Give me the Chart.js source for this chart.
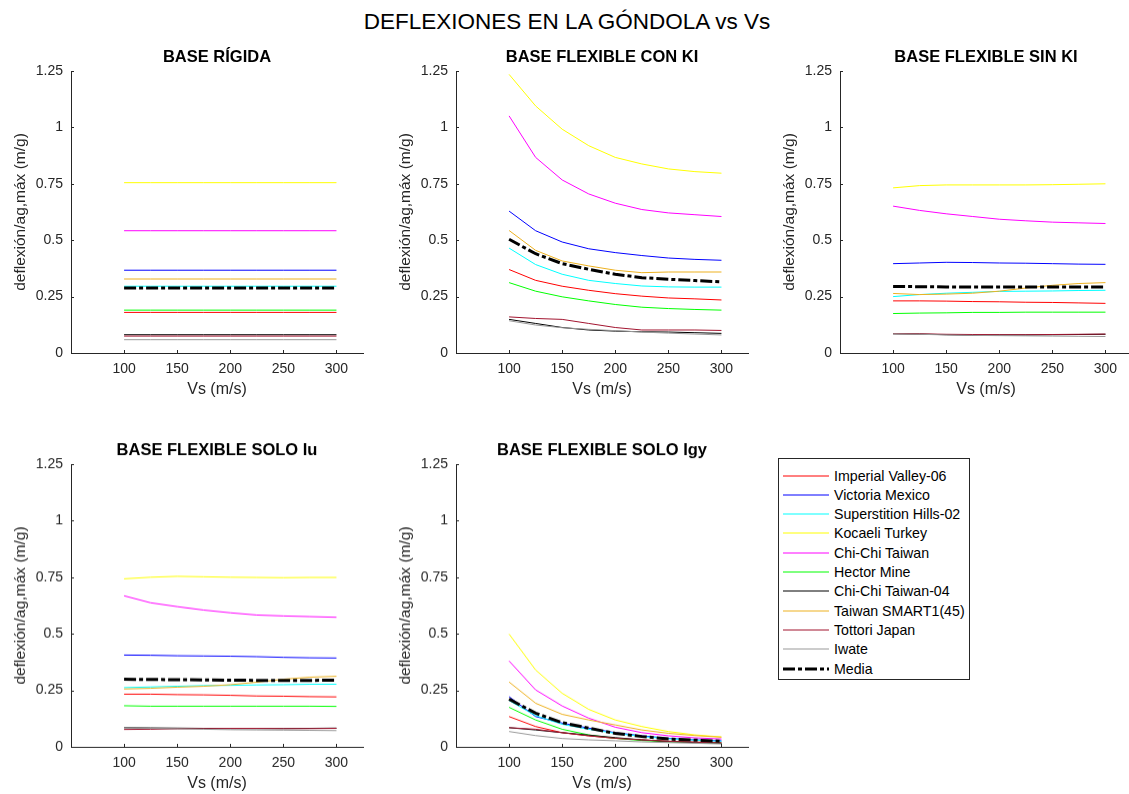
<!DOCTYPE html>
<html>
<head>
<meta charset="utf-8">
<script src="https://cdn.jsdelivr.net/npm/chart.js@4"></script>
<style>
  html, body { margin: 0; padding: 0; background: #fff; overflow: hidden; width: 1129px; height: 794px; }
  #wrap { position: relative; width: 1129px; height: 794px; overflow: hidden; font-family: "Liberation Sans", Arial, sans-serif; }
  .panel { position: absolute; }
  #title { position: absolute; left: 0; width: 1134px; top: 9px; text-align: center; font-size: 22.5px; color: #000; white-space: nowrap; }
  #legend { position: absolute; left: 778px; top: 458px; width: 190px; height: 220px; border: 1px solid #262626; background: #fff; }
  .item { position: absolute; left: 4px; height: 19px; display: flex; align-items: center; font-size: 14.2px; color: #000; white-space: nowrap; }
  .item svg { margin-right: 5px; }
</style>
</head>
<body>
<div id="wrap">
  <div id="title">DEFLEXIONES EN LA GÓNDOLA vs Vs</div>
  <div id="legend"></div>
</div>
<script>
// Shear-wave velocity of the soil (m/s)
const vs = [100, 125, 150, 175, 200, 225, 250, 275, 300];
const xTicks = [100, 150, 200, 250, 300];
const yTicks = [0, 0.25, 0.5, 0.75, 1, 1.25];
const yTickLabels = ['0', '0.25', '0.5', '0.75', '1', '1.25'];

const seriesNames = ['Imperial Valley-06', 'Victoria Mexico', 'Superstition Hills-02', 'Kocaeli Turkey',
  'Chi-Chi Taiwan', 'Hector Mine', 'Chi-Chi Taiwan-04', 'Taiwan SMART1(45)', 'Tottori Japan', 'Iwate', 'Media'];
const seriesColors = ['#ff0000', '#0000ff', '#00ffff', '#ffff00', '#ff00ff', '#00ff00', '#000000',
  '#edb120', '#a2142f', '#999999', '#000000'];

// deflexión/ag,máx (m/g), one row per record (same order as seriesNames)
const baseRigida = [
  [0.180, 0.180, 0.180, 0.180, 0.180, 0.180, 0.180, 0.180, 0.180],
  [0.367, 0.367, 0.367, 0.367, 0.367, 0.367, 0.367, 0.367, 0.367],
  [0.296, 0.296, 0.296, 0.296, 0.296, 0.296, 0.296, 0.296, 0.296],
  [0.755, 0.755, 0.755, 0.755, 0.755, 0.755, 0.755, 0.755, 0.755],
  [0.542, 0.542, 0.542, 0.542, 0.542, 0.542, 0.542, 0.542, 0.542],
  [0.190, 0.190, 0.190, 0.190, 0.190, 0.190, 0.190, 0.190, 0.190],
  [0.081, 0.081, 0.081, 0.081, 0.081, 0.081, 0.081, 0.081, 0.081],
  [0.328, 0.328, 0.328, 0.328, 0.328, 0.328, 0.328, 0.328, 0.328],
  [0.075, 0.075, 0.075, 0.075, 0.075, 0.075, 0.075, 0.075, 0.075],
  [0.059, 0.059, 0.059, 0.059, 0.059, 0.059, 0.059, 0.059, 0.059],
  [0.288, 0.288, 0.288, 0.288, 0.288, 0.288, 0.288, 0.288, 0.288]
];

const baseConKI = [
  [0.370, 0.322, 0.296, 0.278, 0.263, 0.252, 0.244, 0.240, 0.235],
  [0.629, 0.542, 0.492, 0.462, 0.445, 0.432, 0.421, 0.415, 0.411],
  [0.465, 0.392, 0.349, 0.322, 0.308, 0.297, 0.293, 0.292, 0.292],
  [1.235, 1.095, 0.992, 0.919, 0.867, 0.838, 0.816, 0.804, 0.797],
  [1.051, 0.867, 0.767, 0.705, 0.664, 0.636, 0.621, 0.613, 0.605],
  [0.312, 0.274, 0.249, 0.231, 0.215, 0.203, 0.197, 0.193, 0.190],
  [0.149, 0.131, 0.113, 0.102, 0.097, 0.094, 0.093, 0.090, 0.087],
  [0.543, 0.455, 0.408, 0.386, 0.367, 0.356, 0.359, 0.359, 0.359],
  [0.160, 0.153, 0.149, 0.131, 0.113, 0.102, 0.102, 0.102, 0.100],
  [0.143, 0.124, 0.112, 0.105, 0.099, 0.093, 0.088, 0.084, 0.080],
  [0.504, 0.440, 0.396, 0.371, 0.349, 0.334, 0.327, 0.321, 0.315]
];

const baseSinKI = [
  [0.231, 0.231, 0.230, 0.228, 0.227, 0.225, 0.224, 0.222, 0.220],
  [0.396, 0.399, 0.402, 0.401, 0.399, 0.398, 0.396, 0.394, 0.393],
  [0.250, 0.259, 0.265, 0.269, 0.273, 0.274, 0.275, 0.277, 0.278],
  [0.732, 0.742, 0.745, 0.745, 0.745, 0.745, 0.746, 0.748, 0.750],
  [0.651, 0.632, 0.617, 0.605, 0.593, 0.586, 0.580, 0.577, 0.574],
  [0.175, 0.177, 0.178, 0.180, 0.180, 0.181, 0.181, 0.181, 0.181],
  [0.085, 0.084, 0.081, 0.079, 0.080, 0.080, 0.081, 0.082, 0.083],
  [0.264, 0.259, 0.261, 0.265, 0.274, 0.288, 0.300, 0.308, 0.312],
  [0.086, 0.085, 0.083, 0.082, 0.081, 0.081, 0.082, 0.083, 0.084],
  [0.085, 0.083, 0.080, 0.078, 0.077, 0.076, 0.075, 0.074, 0.073],
  [0.295, 0.294, 0.293, 0.292, 0.292, 0.292, 0.292, 0.293, 0.293]
];

const baseSoloIu = [
  [0.233, 0.233, 0.231, 0.230, 0.228, 0.225, 0.224, 0.222, 0.221],
  [0.406, 0.405, 0.403, 0.402, 0.401, 0.399, 0.396, 0.394, 0.393],
  [0.262, 0.265, 0.268, 0.271, 0.272, 0.274, 0.275, 0.277, 0.277],
  [0.743, 0.750, 0.754, 0.752, 0.750, 0.749, 0.748, 0.749, 0.749],
  [0.668, 0.637, 0.620, 0.605, 0.593, 0.583, 0.579, 0.576, 0.573],
  [0.182, 0.180, 0.180, 0.180, 0.180, 0.180, 0.180, 0.180, 0.179],
  [0.085, 0.084, 0.083, 0.082, 0.081, 0.081, 0.081, 0.082, 0.083],
  [0.256, 0.259, 0.264, 0.268, 0.275, 0.286, 0.299, 0.308, 0.312],
  [0.077, 0.078, 0.080, 0.081, 0.082, 0.082, 0.081, 0.081, 0.082],
  [0.084, 0.082, 0.080, 0.078, 0.076, 0.075, 0.074, 0.073, 0.072],
  [0.299, 0.298, 0.297, 0.296, 0.295, 0.294, 0.294, 0.294, 0.295]
];

const baseSoloIgy = [
  [0.134, 0.090, 0.063, 0.049, 0.038, 0.031, 0.025, 0.021, 0.018],
  [0.222, 0.134, 0.105, 0.083, 0.063, 0.049, 0.038, 0.031, 0.027],
  [0.205, 0.138, 0.100, 0.078, 0.060, 0.046, 0.036, 0.030, 0.025],
  [0.499, 0.340, 0.237, 0.166, 0.119, 0.090, 0.068, 0.053, 0.044],
  [0.380, 0.252, 0.181, 0.127, 0.087, 0.063, 0.049, 0.040, 0.035],
  [0.175, 0.119, 0.078, 0.053, 0.038, 0.028, 0.022, 0.019, 0.016],
  [0.085, 0.075, 0.063, 0.052, 0.041, 0.031, 0.024, 0.019, 0.016],
  [0.287, 0.193, 0.144, 0.119, 0.097, 0.075, 0.060, 0.050, 0.043],
  [0.085, 0.078, 0.063, 0.049, 0.038, 0.031, 0.025, 0.021, 0.018],
  [0.068, 0.050, 0.037, 0.031, 0.027, 0.022, 0.019, 0.016, 0.013],
  [0.211, 0.149, 0.107, 0.083, 0.060, 0.046, 0.035, 0.030, 0.025]
];

const FONT = '"Liberation Sans", Arial, sans-serif';
const AXIS = '#262626';
const MEDIA_DASH = [12, 3, 4, 3];

// Axes box geometry (left edge / top edge of each plot area)
const panels = [
  { title: 'BASE RÍGIDA', rows: baseRigida, left: 71, top: 70.5 },
  { title: 'BASE FLEXIBLE CON KI', rows: baseConKI, left: 456, top: 70.5 },
  { title: 'BASE FLEXIBLE SIN KI', rows: baseSinKI, left: 840, top: 70.5 },
  { title: 'BASE FLEXIBLE SOLO Iu', rows: baseSoloIu, left: 71, top: 464 },
  { title: 'BASE FLEXIBLE SOLO Igy', rows: baseSoloIgy, left: 456, top: 464 }
];
const Y_AXIS_W = 71, X_AXIS_H = 50, PAD_TOP = 45, PLOT_W = 292, PLOT_H = 282.5, PAD_RIGHT = 12;

// Subplot title and inward tick marks
const panelDecor = {
  id: 'panelDecor',
  afterDraw(chart, args, opts) {
    const { ctx, chartArea: a, scales } = chart;
    ctx.save();
    ctx.strokeStyle = AXIS;
    ctx.lineWidth = 1;
    ctx.beginPath();
    scales.x.ticks.forEach(t => {
      const px = Math.round(scales.x.getPixelForValue(t.value)) + 0.5;
      ctx.moveTo(px, a.bottom); ctx.lineTo(px, a.bottom - 3);
    });
    scales.y.ticks.forEach(t => {
      const py = Math.round(scales.y.getPixelForValue(t.value)) + 0.5;
      ctx.moveTo(a.left, py); ctx.lineTo(a.left + 3, py);
    });
    ctx.stroke();
    ctx.font = 'bold 16.5px ' + FONT;
    ctx.fillStyle = '#000';
    ctx.textAlign = 'center';
    ctx.textBaseline = 'middle';
    ctx.fillText(opts.text, (a.left + a.right) / 2, a.top - 14);
    ctx.restore();
  }
};

const wrap = document.getElementById('wrap');
panels.forEach(p => {
  const canvas = document.createElement('canvas');
  const w = Y_AXIS_W + PLOT_W + PAD_RIGHT;
  const h = PAD_TOP + PLOT_H + X_AXIS_H;
  canvas.width = w; canvas.height = h;
  canvas.className = 'panel';
  canvas.style.left = (p.left - Y_AXIS_W) + 'px';
  canvas.style.top = (p.top - PAD_TOP) + 'px';
  canvas.style.width = w + 'px';
  canvas.style.height = h + 'px';
  wrap.appendChild(canvas);

  const n = seriesNames.length;
  const datasets = p.rows.map((row, i) => {
    const isMedia = i === n - 1;
    return {
      label: seriesNames[i],
      data: row.map((v, k) => ({ x: vs[k], y: v })),
      borderColor: seriesColors[i],
      borderWidth: isMedia ? 3 : 1,
      borderDash: isMedia ? MEDIA_DASH : [],
      pointRadius: 0,
      tension: 0,
      fill: false,
      order: n - 1 - i
    };
  });

  new Chart(canvas, {
    type: 'line',
    data: { datasets },
    plugins: [panelDecor],
    options: {
      responsive: false,
      animation: false,
      devicePixelRatio: 1,
      layout: { padding: { top: PAD_TOP, right: PAD_RIGHT, left: 0, bottom: 0 } },
      plugins: {
        legend: { display: false },
        tooltip: { enabled: false },
        panelDecor: { text: p.title }
      },
      scales: {
        x: {
          type: 'linear', min: 50, max: 325,
          afterBuildTicks: s => { s.ticks = xTicks.map(v => ({ value: v })); },
          afterFit: s => { s.height = X_AXIS_H; },
          grid: { display: false, drawTicks: false },
          border: { display: true, color: AXIS, width: 1 },
          ticks: { padding: 8, color: AXIS, font: { family: FONT, size: 14 }, maxRotation: 0, autoSkip: false,
                   callback: v => String(v) },
          title: { display: true, text: 'Vs (m/s)', color: AXIS, font: { family: FONT, size: 16 },
                   padding: { top: 0, bottom: 4 } }
        },
        y: {
          type: 'linear', min: 0, max: 1.25,
          afterBuildTicks: s => { s.ticks = yTicks.map(v => ({ value: v })); },
          afterFit: s => { s.width = Y_AXIS_W; },
          grid: { display: false, drawTicks: false },
          border: { display: true, color: AXIS, width: 1 },
          ticks: { padding: 8, color: AXIS, font: { family: FONT, size: 14 }, autoSkip: false,
                   callback: (v, i) => yTickLabels[i] },
          title: { display: true, text: 'deflexión/ag,máx (m/g)', color: AXIS, font: { family: FONT, size: 15.5 },
                   padding: { top: 11, bottom: 0 } }
        }
      }
    }
  });
});

// Legend entries built from the series names and colours
const legend = document.getElementById('legend');
seriesNames.forEach((name, i) => {
  const isMedia = i === seriesNames.length - 1;
  const item = document.createElement('div');
  item.className = 'item';
  item.style.top = (7 + i * 19.33) + 'px';
  const dash = isMedia ? ' stroke-dasharray="' + MEDIA_DASH.join(' ') + '"' : '';
  item.innerHTML = '<svg width="46" height="6"><line x1="0" y1="3" x2="46" y2="3" stroke="' + seriesColors[i] +
    '" stroke-width="' + (isMedia ? 3 : 1) + '"' + dash + '/></svg><span>' + name + '</span>';
  legend.appendChild(item);
});
</script>
</body>
</html>
